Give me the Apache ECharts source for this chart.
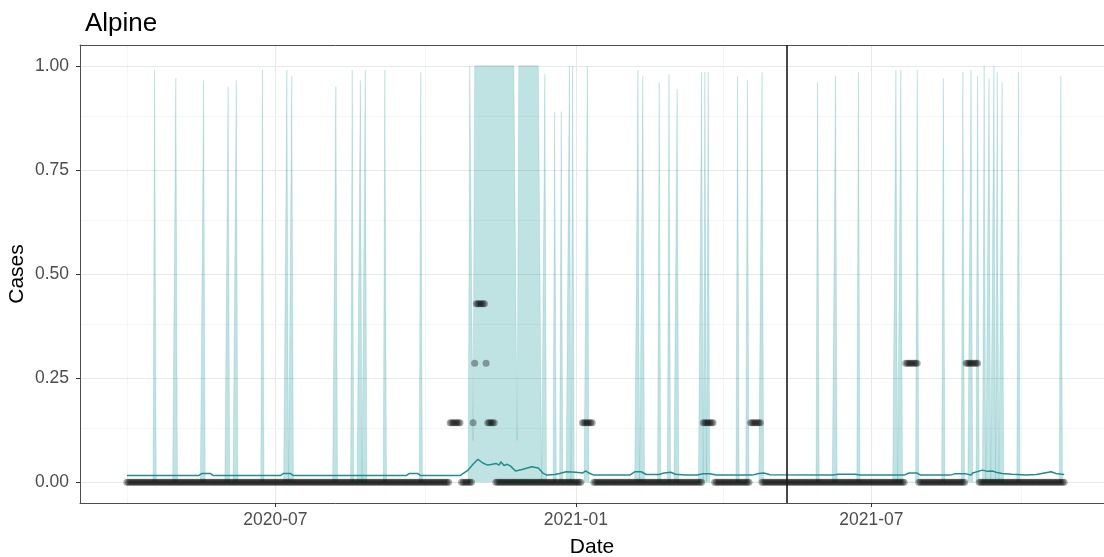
<!DOCTYPE html>
<html>
<head>
<meta charset="utf-8">
<script src="https://cdn.jsdelivr.net/npm/echarts@6/dist/echarts.min.js"></script>
<style>
html, body { margin: 0; padding: 0; background: #fff; }
#chart { width: 1104px; height: 557px; }
</style>
</head>
<body>
<div id="chart"></div>
<script>
// observed values, one point per day, kept as runs of equal value
var runStart = ['2020-04-01', '2020-10-16', '2020-10-23', '2020-10-30', '2020-10-31', '2020-11-01', '2020-11-07', '2020-11-08', '2020-11-13',
    '2021-01-05', '2021-01-12', '2021-03-20', '2021-03-27', '2021-04-18', '2021-04-25', '2021-07-22', '2021-07-30', '2021-08-28', '2021-09-05'];
var runEnd = ['2020-10-15', '2020-10-22', '2020-10-29', '2020-10-30', '2020-10-31', '2020-11-06', '2020-11-07', '2020-11-12', '2021-01-04',
    '2021-01-11', '2021-03-19', '2021-03-26', '2021-04-17', '2021-04-24', '2021-07-21', '2021-07-29', '2021-08-27', '2021-09-04', '2021-10-27'];
var runValue = [0, 0.1429, 0, 0.1429, 0.2857, 0.4286, 0.2857, 0.1429, 0,
    0.1429, 0, 0.1429, 0, 0.1429, 0, 0.2857, 0, 0.2857, 0];

// fitted mean (teal line)
var lineDates = ['2020-04-01', '2020-05-15', '2020-05-17', '2020-05-22', '2020-05-24', '2020-07-04', '2020-07-06', '2020-07-10', '2020-07-12',
    '2020-09-19', '2020-09-21', '2020-09-26', '2020-09-28', '2020-10-22', '2020-10-27', '2020-10-30', '2020-11-02', '2020-11-05', '2020-11-08',
    '2020-11-10', '2020-11-13', '2020-11-15', '2020-11-16', '2020-11-18', '2020-11-20', '2020-11-22', '2020-11-25', '2020-11-29', '2020-12-05',
    '2020-12-09', '2020-12-12', '2020-12-14', '2020-12-19', '2020-12-22', '2020-12-26', '2021-01-01', '2021-01-05', '2021-01-07', '2021-01-09',
    '2021-01-12', '2021-02-03', '2021-02-06', '2021-02-10', '2021-02-13', '2021-02-21', '2021-02-24', '2021-02-28', '2021-03-03', '2021-03-09',
    '2021-03-16', '2021-03-20', '2021-03-24', '2021-03-28', '2021-04-19', '2021-04-23', '2021-04-26', '2021-04-30', '2021-06-07', '2021-06-11',
    '2021-06-21', '2021-06-24', '2021-07-21', '2021-07-24', '2021-07-29', '2021-07-31', '2021-08-18', '2021-08-21', '2021-08-28', '2021-08-31',
    '2021-09-01', '2021-09-07', '2021-09-10', '2021-09-13', '2021-09-16', '2021-09-19', '2021-09-25', '2021-10-04', '2021-10-10', '2021-10-19',
    '2021-10-22', '2021-10-27'];
var lineValues = [0.016, 0.016, 0.021, 0.021, 0.016, 0.016, 0.021, 0.021, 0.016,
    0.016, 0.021, 0.021, 0.016, 0.016, 0.029, 0.043, 0.055, 0.046, 0.041,
    0.0425, 0.045, 0.041, 0.049, 0.040, 0.043, 0.0385, 0.027, 0.0305, 0.037,
    0.034, 0.021, 0.017, 0.0185, 0.021, 0.025, 0.024, 0.022, 0.027, 0.022,
    0.017, 0.017, 0.025, 0.025, 0.0185, 0.0185, 0.022, 0.024, 0.019, 0.017,
    0.017, 0.020, 0.020, 0.017, 0.017, 0.021, 0.022, 0.018, 0.017, 0.019,
    0.019, 0.017, 0.017, 0.022, 0.022, 0.017, 0.017, 0.020, 0.020, 0.017,
    0.022, 0.029, 0.026, 0.027, 0.023, 0.021, 0.019, 0.017, 0.0185, 0.025,
    0.021, 0.0185];

// upper band: wide block, then single-day spikes (dips inside the block included)
var blockStart = ['2020-10-28'];
var blockEnd = ['2020-12-10'];
var blockValue = [1.0];
var spikeDates = ['2020-04-18', '2020-05-01', '2020-05-18', '2020-06-02', '2020-06-07', '2020-06-23', '2020-07-08', '2020-07-11', '2020-08-07',
    '2020-08-17', '2020-08-22', '2020-08-25', '2020-09-06', '2020-09-28', '2020-10-30', '2020-11-26', '2020-12-13', '2020-12-19', '2020-12-23',
    '2020-12-28', '2020-12-30', '2021-01-08', '2021-02-08', '2021-02-11', '2021-02-21', '2021-02-27', '2021-03-04', '2021-03-19', '2021-03-21',
    '2021-03-23', '2021-04-10', '2021-04-16', '2021-04-25', '2021-05-29', '2021-06-09', '2021-06-23', '2021-07-16', '2021-07-19', '2021-07-29',
    '2021-08-14', '2021-08-26', '2021-08-31', '2021-09-04', '2021-09-08', '2021-09-11', '2021-09-14', '2021-09-16', '2021-09-19', '2021-09-29',
    '2021-10-25'];
var spikeValues = [0.99, 0.97, 0.965, 0.95, 0.965, 0.99, 0.99, 0.975, 0.95,
    0.99, 0.965, 0.99, 0.99, 0.985, 0.1, 0.1, 0.98, 0.89, 0.89,
    1.0, 1.0, 1.0, 0.99, 0.975, 0.96, 0.98, 0.945, 0.985, 0.985,
    0.985, 0.975, 0.965, 0.985, 0.96, 0.975, 0.985, 0.99, 0.99, 0.99,
    0.97, 0.985, 0.99, 0.975, 1.0, 0.97, 1.0, 0.985, 0.96, 0.985,
    0.975];

var firstDay = '2020-04-01';
var lastDay = '2021-10-27';
var cutoffDate = '2021-05-10';
var xMajor = ['2020-07-01', '2021-01-01', '2021-07-01'];
var xMinor = ['2020-04-01', '2020-10-01', '2021-04-01', '2021-10-01'];
var yMajor = [0, 0.25, 0.5, 0.75, 1];
var yMinor = [0.125, 0.375, 0.625, 0.875];

var DAY = 86400000;
function t(s) {
    var p = s.split('-');
    return Date.UTC(+p[0], +p[1] - 1, +p[2]);
}
function dayIndex(s) {
    return Math.round((t(s) - t(firstDay)) / DAY);
}

var nDays = dayIndex(lastDay) + 1;

// points
var points = [];
runStart.forEach(function (s, i) {
    for (var d = dayIndex(s); d <= dayIndex(runEnd[i]); d++) {
        points.push([t(firstDay) + d * DAY, runValue[i]]);
    }
});

// band
var upper = new Array(nDays).fill(0);
blockStart.forEach(function (s, i) {
    for (var d = dayIndex(s); d <= dayIndex(blockEnd[i]); d++) upper[d] = blockValue[i];
});
spikeDates.forEach(function (s, i) {
    upper[dayIndex(s)] = spikeValues[i];
});
var band = upper.map(function (v, d) { return [t(firstDay) + d * DAY, v]; });

var meanLine = lineDates.map(function (s, i) { return [t(s), lineValues[i]]; });

// 5% padding each side like ggplot; the picture cuts the panel a little on the right
var span = t(lastDay) - t(firstDay);
var xMin = t(firstDay) - 0.05 * span;
var xMax = xMin + 1.1 * span * (1024 / 1031);

function fmtMonth(v) {
    var dt = new Date(v);
    var m = dt.getUTCMonth() + 1;
    return dt.getUTCFullYear() + '-' + (m < 10 ? '0' + m : m);
}

var major = { color: '#e8e8e8', width: 1.1, type: 'solid' };
var minor = { color: '#f3f3f3', width: 0.8, type: 'solid' };
var gridLines = [];
xMajor.forEach(function (s) { gridLines.push({ xAxis: t(s), lineStyle: major }); });
xMinor.forEach(function (s) { gridLines.push({ xAxis: t(s), lineStyle: minor }); });
yMajor.forEach(function (v) { gridLines.push({ yAxis: v, lineStyle: major }); });
yMinor.forEach(function (v) { gridLines.push({ yAxis: v, lineStyle: minor }); });

var font = 'Liberation Sans, Arial, Helvetica, sans-serif';
var border = { show: true, onZero: false, lineStyle: { color: '#4d4d4d', width: 1 } };
var chart = echarts.init(document.getElementById('chart'));
chart.setOption({
    animation: false,
    backgroundColor: '#fff',
    title: {
        text: 'Alpine',
        left: 80,
        top: 6,
        textStyle: { fontFamily: font, fontSize: 26, fontWeight: 'normal', color: '#000' }
    },
    grid: {
        left: 80,
        right: 0,
        top: 45,
        bottom: 54,
        outerBoundsMode: 'none',
        containLabel: false
    },
    xAxis: [{
        type: 'value',
        min: xMin,
        max: xMax,
        name: 'Date',
        nameLocation: 'middle',
        nameGap: 34,
        nameMoveOverlap: false,
        nameTextStyle: { fontFamily: font, fontSize: 21, color: '#000' },
        axisLine: border,
        axisTick: { show: true, length: 4, customValues: xMajor.map(t), lineStyle: { color: '#333' } },
        axisLabel: {
            customValues: xMajor.map(t),
            formatter: fmtMonth,
            margin: 8,
            fontFamily: font,
            fontSize: 17.5,
            color: '#4d4d4d'
        },
        splitLine: { show: false }
    }, {
        type: 'value',
        position: 'top',
        min: xMin,
        max: xMax,
        axisLine: border,
        axisTick: { show: false },
        axisLabel: { show: false },
        splitLine: { show: false }
    }],
    yAxis: {
        type: 'value',
        min: -0.05,
        max: 1.05,
        name: 'Cases',
        nameLocation: 'middle',
        nameGap: 52,
        nameMoveOverlap: false,
        nameTextStyle: { fontFamily: font, fontSize: 21, color: '#000' },
        axisLine: border,
        axisTick: { show: true, length: 4, customValues: yMajor, lineStyle: { color: '#333' } },
        axisLabel: {
            customValues: yMajor,
            formatter: function (v) { return v.toFixed(2); },
            margin: 11,
            fontFamily: font,
            fontSize: 17.5,
            color: '#4d4d4d'
        },
        splitLine: { show: false }
    },
    series: [
        {
            name: 'grid',
            type: 'line',
            data: [],
            z: 0,
            silent: true,
            markLine: {
                z: 0,
                silent: true,
                symbol: ['none', 'none'],
                label: { show: false },
                animation: false,
                data: gridLines
            }
        },
        {
            name: 'band',
            type: 'line',
            data: band,
            z: 1,
            showSymbol: false,
            silent: true,
            lineStyle: { width: 0.7, color: 'rgba(0,139,139,0.2)' },
            itemStyle: { color: 'rgba(0,139,139,0.25)' },
            areaStyle: { color: 'rgba(0,139,139,0.25)', opacity: 1, origin: 'auto' }
        },
        {
            name: 'observed',
            type: 'scatter',
            data: points,
            z: 2,
            symbolSize: 7,
            itemStyle: { color: 'rgba(0,0,0,0.42)' },
            silent: true
        },
        {
            name: 'mean',
            type: 'line',
            data: meanLine,
            z: 3,
            showSymbol: false,
            silent: true,
            lineStyle: { color: '#1f8f8c', width: 1.5 },
            itemStyle: { color: '#1f8f8c' },
            markLine: {
                z: 10,
                silent: true,
                symbol: ['none', 'none'],
                label: { show: false },
                animation: false,
                lineStyle: { color: '#1a1a1a', width: 1.6, type: 'solid' },
                data: [{ xAxis: t(cutoffDate) }]
            }
        }
    ]
});
</script>
</body>
</html>
